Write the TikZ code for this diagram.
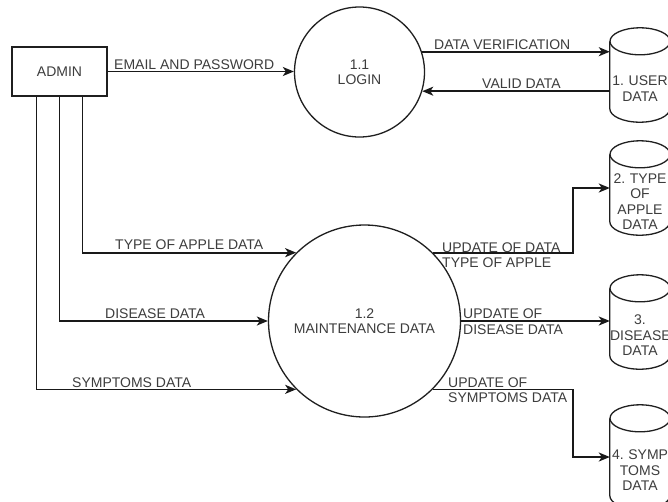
\documentclass[tikz,border=0pt]{standalone}
\usepackage{fontspec}
\setmainfont{Liberation Sans}
\usetikzlibrary{arrows.meta}
\frenchspacing
\newcommand\drawstore[1]{%
  \draw[shapeline] ([yshift=13.5pt]#1.north) ellipse [x radius=30pt, y radius=13.5pt];
  \draw[shapeline] ([yshift=13.5pt]#1.north west) -- ([yshift=13.5pt]#1.south west)
    arc [start angle=180, end angle=360, x radius=30pt, y radius=13.5pt]
    -- ([yshift=13.5pt]#1.north east);}
\begin{document}
\begin{tikzpicture}[x=1pt,y=1pt,
  txt/.style={text=black!76, font=\fontsize{14}{15.5}\selectfont\frenchspacing, inner sep=0pt},
  lbl/.style={txt, anchor=west, align=left},
  shapeline/.style={draw=black!88, line width=1.3pt},
  flow/.style={draw=black!90, line width=1.7pt, -{Stealth[length=11pt,width=9pt,inset=3pt]}},
  entity/.style={txt, shapeline, rectangle, minimum width=95pt, minimum height=49pt},
  proc/.style={txt, shapeline, circle, align=center},
  store/.style={txt, rectangle, text width=60pt, align=center, minimum width=60pt},
]
\fill[white] (0,0) rectangle (668,-501);
\useasboundingbox (0,0) rectangle (668,-501);
\clip (0,0) rectangle (668,-501);

% nodes
\node[entity] (admin) at (59.5,-71.5) {ADMIN};
\node[proc, minimum size=130pt] (login) at (359.5,-72) {1.1\\LOGIN};
\node[proc, minimum size=192pt] (maint) at (364.5,-321) {1.2\\MAINTENANCE DATA};

\node[store, minimum height=67pt] (c1) at (640,-88.5) {1. USER\\DATA};
\node[store, minimum height=67pt] (c2) at (640,-201.5) {2. TYPE\\OF\\APPLE\\DATA};
\node[store, minimum height=67pt] (c3) at (640,-335.5) {3.\\DISEASE\\DATA};
\node[store, minimum height=77pt] (c4) at (640,-470.5) {4. SYMP\\TOMS\\DATA};
\drawstore{c1}
\drawstore{c2}
\drawstore{c3}
\drawstore{c4}

% connectors
\draw[flow] (admin.east) -- (admin.east -| login.west);
\draw[flow] (login.18) -- (login.18 -| c1.west);
\draw[flow] (login.-17 -| c1.west) -- (login.-17);

\coordinate (a1) at ([xshift=25pt]admin.south west);
\coordinate (a2) at ([xshift=48pt]admin.south west);
\coordinate (a3) at ([xshift=71pt]admin.south west);
\draw[flow] (a3) |- (maint.135);
\draw[flow] (a2) |- (maint.west);
\draw[flow] (a1) |- (maint.225);

\coordinate (j) at (573,0);
\draw[flow] (maint.45) -- (maint.45 -| j) |- ([yshift=13.5pt]c2.west);
\draw[flow] (maint.east) -- (maint.east -| c3.west);
\draw[flow] (maint.-45) -- (maint.-45 -| j) |- ([yshift=13.5pt]c4.west);

% labels
\node[lbl] (l1) at (114,-64.3) {EMAIL AND PASSWORD};
\node[lbl] (l2) at (434,-45) {DATA VERIFICATION};
\node[lbl] (l3) at (482,-83.5) {VALID DATA};
\node[lbl] (l4) at (115,-245) {TYPE OF APPLE DATA};
\node[lbl] (l5) at (105,-314) {DISEASE DATA};
\node[lbl] (l6) at (72,-383) {SYMPTOMS DATA};
\node[lbl] (l7) at (442,-255) {UPDATE OF DATA\\TYPE OF APPLE};
\node[lbl] (l8) at (463,-321.5) {UPDATE OF\\DISEASE DATA};
\node[lbl] (l9) at (448,-390) {UPDATE OF\\SYMPTOMS DATA};
\end{tikzpicture}
\end{document}
